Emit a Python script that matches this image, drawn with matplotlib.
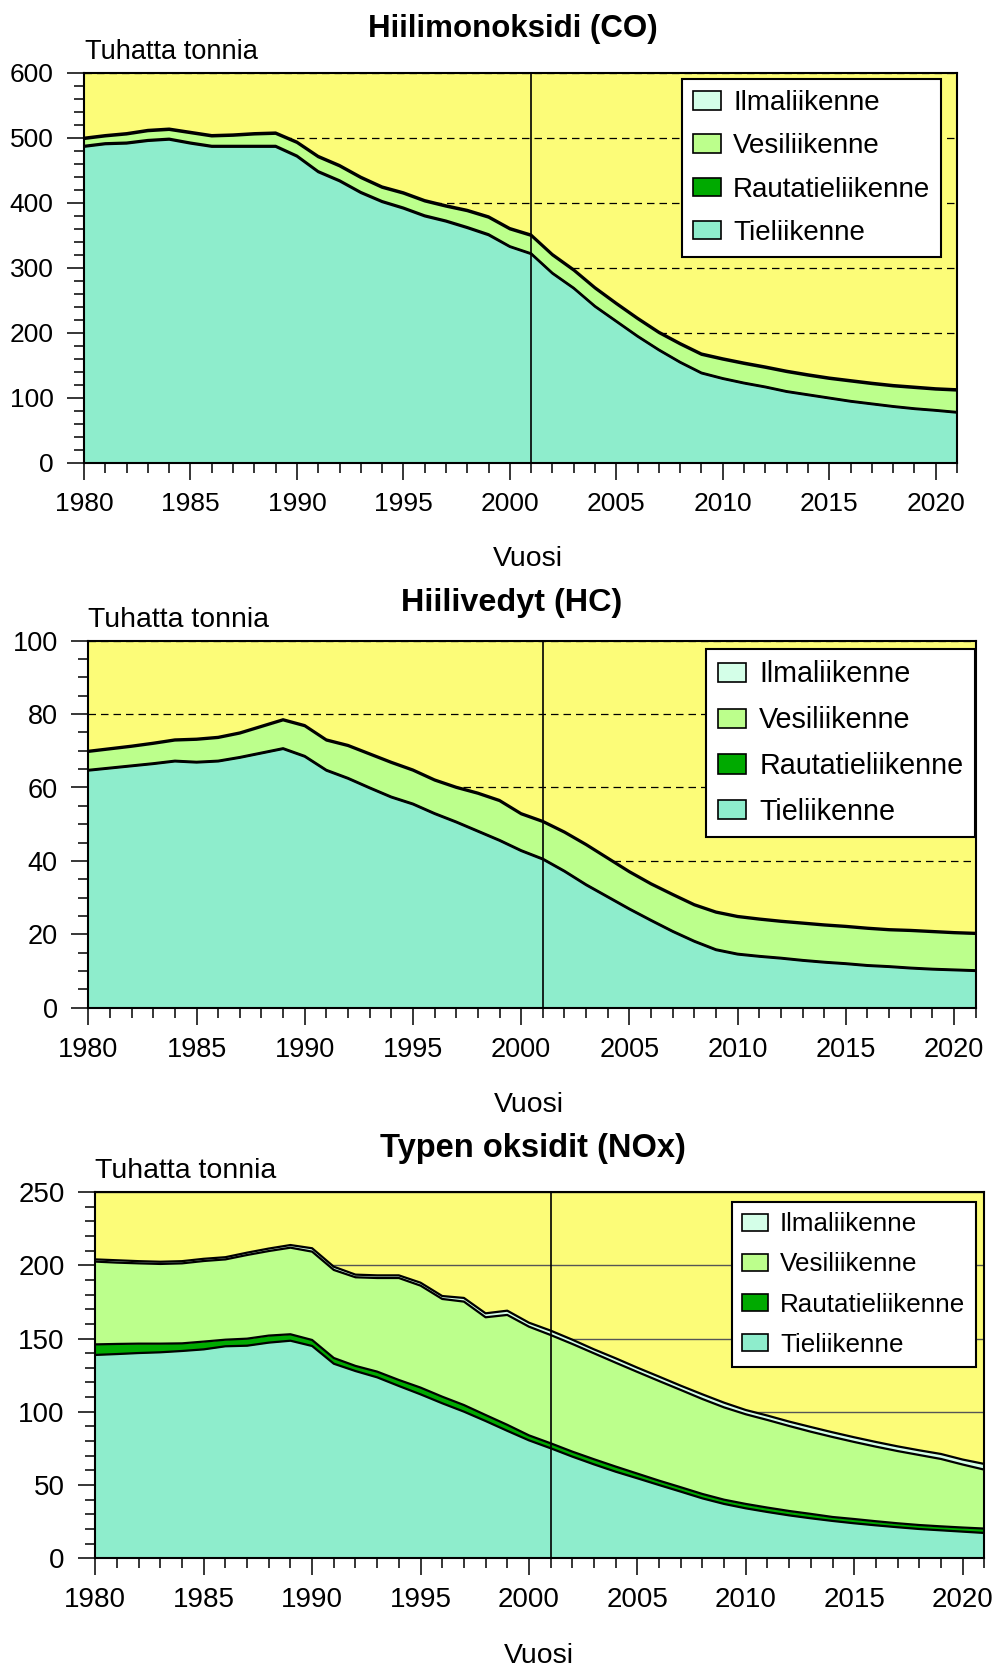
import matplotlib
matplotlib.use("agg")
import matplotlib.pyplot as plt
from matplotlib.patches import Patch
from matplotlib.ticker import MultipleLocator
import numpy as np

plt.rcParams["font.family"] = ["Liberation Sans", "DejaVu Sans"]

W, H = 998, 1667

years = np.arange(1980, 2022)
series_names = ["Tieliikenne", "Rautatieliikenne", "Vesiliikenne", "Ilmaliikenne"]
series_colors = ["#8EEDCC", "#00AA00", "#BCFF8C", "#D4FFE8"]
bg_color = "#FCFC78"

# Hiilimonoksidi (CO), tuhatta tonnia
co_road = [486, 490, 491, 495, 497, 491, 486, 486, 486, 486,
           471, 447, 433, 415, 401, 391, 379, 371, 361, 350,
           332, 321, 291, 268, 240, 217, 194, 173, 154, 137.5,
           129, 122, 116, 109, 104, 99, 94, 90, 86, 82.6,
           80, 77]
co_rail = [1.5, 1.5, 1.5, 1.5, 1.5, 1.5, 1.5, 1.5, 1.5, 1.5,
           1.5, 1.5, 1.5, 1.5, 1.5, 1.5, 1.5, 1.5, 1.5, 1.5,
           1.0, 1.0, 1.0, 1.0, 1.0, 1.0, 1.0, 1.0, 1.0, 1.0,
           1.0, 1.0, 1.0, 1.0, 1.0, 1.0, 1.0, 1.0, 1.0, 1.0,
           1.0, 1.0]
co_water = [10.5, 10.5, 12.5, 13.5, 13.5, 14.5, 14.5, 15.5, 17.5, 18.5,
            19.5, 21.5, 21.5, 21.5, 20.5, 21.5, 21.5, 21.5, 24.5, 25.5,
            26, 27, 27, 26.5, 27, 26, 26, 25.5, 27, 27.5,
            28.6, 29, 29, 29.5, 29, 29, 30, 30, 30.5, 31.4,
            31.5, 33]
co_air = [2.0, 2.0, 2.0, 2.0, 2.0, 2.0, 2.0, 2.0, 2.0, 2.0,
          2.0, 2.0, 2.0, 2.0, 2.0, 2.0, 2.0, 2.0, 2.0, 2.0,
          2.0, 2.0, 2.0, 2.0, 2.0, 2.0, 2.0, 2.0, 2.0, 2.0,
          2.0, 2.0, 2.0, 2.0, 2.0, 2.0, 2.0, 2.0, 2.0, 2.0,
          2.0, 2.0]

# Hiilivedyt (HC)
hc_road = [64.6, 65.2, 65.8, 66.4, 67.1, 66.8, 67.1, 68.1, 69.3, 70.5,
           68.4, 64.6, 62.4, 59.8, 57.3, 55.4, 52.8, 50.5, 48.0, 45.5,
           42.7, 40.4, 37.1, 33.4, 30.1, 26.8, 23.7, 20.7, 18.0, 15.7,
           14.5, 13.9, 13.4, 12.8, 12.3, 11.9, 11.4, 11.1, 10.7, 10.4,
           10.2, 10.0]
hc_rail = [0.2, 0.2, 0.2, 0.2, 0.2, 0.2, 0.2, 0.2, 0.2, 0.2,
           0.2, 0.2, 0.2, 0.2, 0.2, 0.2, 0.2, 0.2, 0.2, 0.2,
           0.2, 0.2, 0.2, 0.2, 0.2, 0.2, 0.2, 0.2, 0.2, 0.2,
           0.2, 0.2, 0.2, 0.2, 0.2, 0.2, 0.2, 0.2, 0.2, 0.2,
           0.2, 0.2]
hc_water = [4.9, 5.0, 5.1, 5.3, 5.5, 6.0, 6.2, 6.4, 7.0, 7.6,
            8.1, 8.0, 8.7, 9.0, 9.2, 9.0, 8.9, 9.2, 10.1, 10.6,
            9.8, 10.0, 10.4, 10.7, 10.3, 9.9, 9.7, 9.8, 9.7, 10.0,
            10.0, 9.9, 9.8, 9.9, 9.9, 9.9, 9.9, 9.8, 10.0, 10.0,
            9.9, 9.9]
hc_air = [0.3, 0.3, 0.3, 0.3, 0.3, 0.3, 0.3, 0.3, 0.3, 0.3,
          0.3, 0.3, 0.3, 0.3, 0.3, 0.3, 0.3, 0.3, 0.3, 0.3,
          0.3, 0.3, 0.3, 0.3, 0.3, 0.3, 0.3, 0.3, 0.3, 0.3,
          0.3, 0.3, 0.3, 0.3, 0.3, 0.3, 0.3, 0.3, 0.3, 0.3,
          0.3, 0.3]

# Typen oksidit (NOx)
nox_road = [138.8, 139.4, 140.1, 140.6, 141.5, 142.6, 144.7, 145.1, 147.2, 148.5,
            144.9, 132.8, 127.8, 123.5, 117.6, 111.9, 105.8, 100.1, 93.7, 87.0,
            80.5, 75.1, 69.4, 64.1, 59.1, 54.6, 50.0, 45.5, 40.9, 37.1,
            34.1, 31.6, 29.3, 27.3, 25.5, 23.9, 22.5, 21.2, 20.0, 19.1,
            18.2, 17.3]
nox_rail = [7.2, 6.9, 6.4, 5.9, 5.2, 5.3, 4.5, 4.8, 4.8, 4.4,
            4.1, 3.9, 3.5, 3.9, 4.1, 4.6, 4.5, 4.5, 4.1, 4.1,
            3.4, 3.4, 3.4, 3.5, 3.5, 3.2, 3.0, 3.0, 3.0, 2.9,
            3.0, 3.0, 3.0, 3.0, 2.7, 2.9, 2.8, 2.7, 2.7, 2.7,
            2.8, 3.0]
nox_water = [56.5, 55.5, 54.8, 54.4, 54.6, 55.0, 54.8, 57.1, 57.7, 59.1,
             60.3, 60.1, 60.5, 63.9, 69.6, 69.6, 66.7, 70.6, 66.7, 75.0,
             74.2, 73.9, 73.5, 72.3, 70.9, 69.4, 68.0, 66.4, 64.8, 63.0,
             61.2, 59.8, 58.0, 56.1, 54.6, 52.6, 50.9, 49.3, 47.8, 46.0,
             43.0, 40.2]
nox_air = [1.5, 1.6, 1.5, 1.5, 1.5, 1.5, 1.5, 1.6, 1.7, 1.8,
           2.3, 2.2, 1.8, 1.8, 1.8, 2.0, 2.0, 2.5, 2.7, 2.9,
           2.7, 3.0, 2.9, 2.7, 3.0, 2.9, 3.0, 2.9, 3.2, 3.2,
           2.9, 3.0, 3.0, 3.2, 3.2, 3.2, 3.2, 3.2, 3.2, 3.4,
           3.4, 3.9]

panels = [
    {"title": "Hiilimonoksidi (CO)", "data": [co_road, co_rail, co_water, co_air],
     "box": (84, 72.7, 957, 462.7), "ymax": 600, "major": 100, "minor": 20,
     "grid": "dash", "title_pos": (513, 36.7), "unit_pos": (85, 59.3),
     "x_pos": (528, 566), "legend": (0.6847, 0.9838), "fs": (22.5, 19, 19.6, 20)},
    {"title": "Hiilivedyt (HC)", "data": [hc_road, hc_rail, hc_water, hc_air],
     "box": (88.3, 640.7, 975.7, 1007.7), "ymax": 100, "major": 20, "minor": 5,
     "grid": "dash", "title_pos": (512, 610.7), "unit_pos": (88, 626.7),
     "x_pos": (529, 1112), "legend": (0.6961, 0.9774), "fs": (23.3, 19.5, 20.4, 20.7)},
    {"title": "Typen oksidit (NOx)", "data": [nox_road, nox_rail, nox_water, nox_air],
     "box": (95.3, 1192, 984.3, 1558.3), "ymax": 250, "major": 50, "minor": 10,
     "grid": "solid", "title_pos": (533, 1156.7), "unit_pos": (95, 1178),
     "x_pos": (539, 1663), "legend": (0.7162, 0.9727), "fs": (23.5, 20, 20.5, 18.7)},
]

fig = plt.figure(figsize=(W / 100, H / 100), dpi=100)


def ftext(x, y, s, **kw):
    fig.text(x / W, 1 - y / H, s, **kw)


for p in panels:
    x0, y0, x1, y1 = p["box"]
    ax = fig.add_axes([x0 / W, 1 - y1 / H, (x1 - x0) / W, (y1 - y0) / H])
    ax.set_facecolor(bg_color)
    fs_title, fs_tick, fs_label, fs_leg = p["fs"]

    bottom = np.zeros(len(years))
    for vals, color in zip(p["data"], series_colors):
        top = bottom + np.array(vals)
        ax.fill_between(years, bottom, top, color=color, lw=0, zorder=2)
        ax.plot(years, top, color="black", lw=1.6, zorder=3, solid_joinstyle="round")
        bottom = top

    ax.axvline(2001, color="black", lw=1.2, zorder=4)

    ax.set_xlim(1980, 2021)
    ax.set_ylim(0, p["ymax"])
    ax.xaxis.set_major_locator(MultipleLocator(5))
    ax.xaxis.set_minor_locator(MultipleLocator(1))
    ax.yaxis.set_major_locator(MultipleLocator(p["major"]))
    ax.yaxis.set_minor_locator(MultipleLocator(p["minor"]))
    ax.tick_params(which="major", direction="out", length=12, width=1.1,
                   labelsize=fs_tick, pad=10)
    ax.tick_params(which="minor", direction="out", length=7, width=1.1)
    ax.tick_params(axis="x", which="major", pad=9)

    ax.set_axisbelow(True)
    if p["grid"] == "dash":
        ax.yaxis.grid(True, which="major", color="black", lw=0.9, ls=(0, (6, 4)))
    else:
        ax.yaxis.grid(True, which="major", color="#555555", lw=1.0)

    for sp in ax.spines.values():
        sp.set_linewidth(1.5)
        sp.set_zorder(5)

    handles = [Patch(facecolor=series_colors[i], edgecolor="black", lw=1.2,
                     label=series_names[i]) for i in (3, 2, 1, 0)]
    leg = ax.legend(handles=handles, loc="upper left", bbox_to_anchor=p["legend"],
                    borderaxespad=0, fontsize=fs_leg, frameon=True, fancybox=False,
                    framealpha=1, edgecolor="black", borderpad=0.4,
                    labelspacing=0.62, handlelength=1.0, handleheight=0.65,
                    handletextpad=0.45)
    leg.get_frame().set_linewidth(1.5)
    leg.set_zorder(6)

    ftext(*p["title_pos"], p["title"], ha="center", va="baseline",
          fontsize=fs_title, fontweight="bold")
    ftext(*p["unit_pos"], "Tuhatta tonnia", ha="left", va="baseline", fontsize=fs_label)
    ftext(*p["x_pos"], "Vuosi", ha="center", va="baseline", fontsize=20.4)

fig.savefig("out.png", dpi=100)
